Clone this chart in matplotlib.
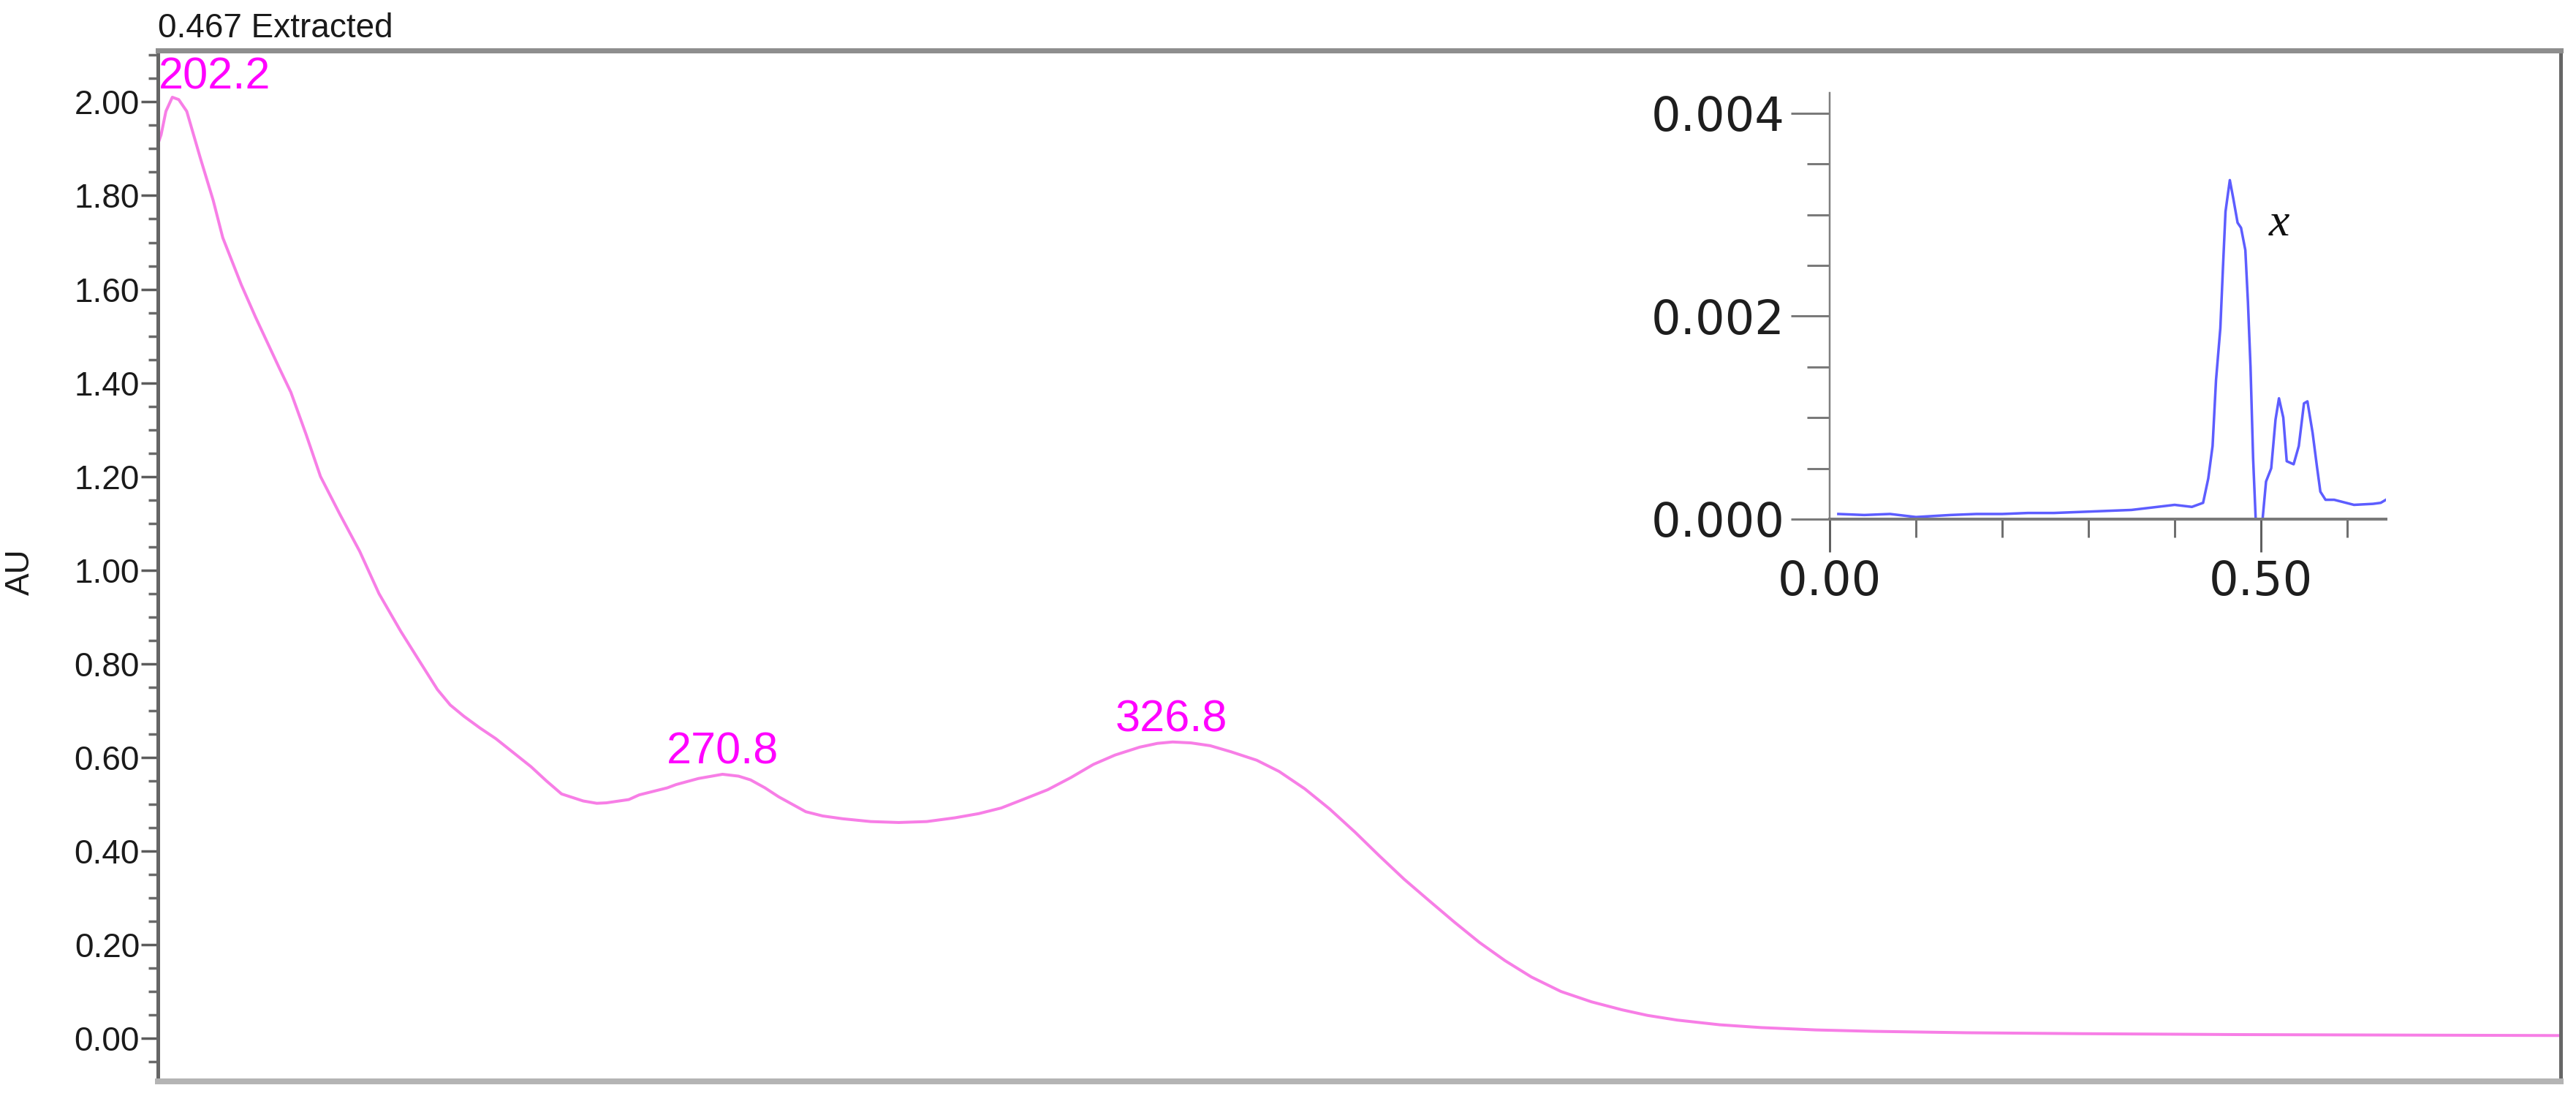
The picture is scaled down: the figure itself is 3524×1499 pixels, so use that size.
#!/usr/bin/env python
import matplotlib
matplotlib.use("Agg")
import matplotlib.pyplot as plt
from matplotlib.ticker import MultipleLocator, FixedLocator, FormatStrFormatter

# UV spectrum of the extracted peak (nm, AU)
wavelength = [200.0, 200.4, 201.0, 201.8, 202.6, 203.6, 205.3, 206.9, 208.1, 210.4,
              212.2, 213.7, 215.2, 216.6, 218.5, 220.3, 222.7, 225.2, 227.6, 230.3,
              232.5, 234.9, 236.5, 238.2, 240.2, 242.2, 244.4, 246.6, 248.5, 250.4,
              253.1, 254.8, 256.0, 258.8, 260.1, 263.6, 264.7, 267.5, 270.5, 272.5,
              274.0, 275.8, 277.5, 280.9, 283.0, 285.5, 289.0, 292.5, 296.0, 299.5,
              302.5, 305.3, 308.0, 311.1, 314.0, 316.8, 319.5, 322.6, 324.8, 326.7,
              329.0, 331.4, 334.0, 337.2, 340.0, 343.2, 346.3, 349.5, 352.5, 355.6,
              358.8, 361.9, 365.0, 368.2, 371.5, 375.2, 379.0, 382.8, 386.0, 389.7,
              395.0, 400.2, 407.0, 414.1, 425.8, 440.0, 460.0, 480.0, 500.0]
absorbance = [1.91, 1.93, 1.98, 2.01, 2.005, 1.98, 1.88, 1.79, 1.71, 1.61,
              1.54, 1.485, 1.43, 1.38, 1.29, 1.20, 1.12, 1.04, 0.95, 0.87,
              0.81, 0.745, 0.712, 0.688, 0.663, 0.64, 0.61, 0.58, 0.55, 0.522,
              0.507, 0.502, 0.503, 0.51, 0.52, 0.535, 0.542, 0.555, 0.564, 0.56,
              0.552, 0.535, 0.516, 0.484, 0.475, 0.469, 0.463, 0.461, 0.463, 0.471,
              0.48, 0.492, 0.51, 0.531, 0.557, 0.585, 0.605, 0.622, 0.630, 0.633,
              0.631, 0.625, 0.612, 0.594, 0.57, 0.533, 0.49, 0.44, 0.39, 0.34,
              0.293, 0.248, 0.205, 0.166, 0.131, 0.10, 0.078, 0.061, 0.049, 0.039,
              0.029, 0.023, 0.018, 0.015, 0.012, 0.010, 0.008, 0.007, 0.006]
peak_nm = [202.2, 270.8, 326.8]
peak_label_y = [2.028, 0.586, 0.656]

# extracted chromatogram (min, AU)
time_min = [0.01, 0.04, 0.07, 0.10, 0.12, 0.14, 0.17, 0.20, 0.23, 0.26,
            0.29, 0.32, 0.35, 0.38, 0.40, 0.42, 0.433, 0.439, 0.444, 0.448,
            0.453, 0.456, 0.459, 0.464, 0.468, 0.473, 0.477, 0.482, 0.485, 0.488,
            0.491, 0.494, 0.502, 0.506, 0.512, 0.517, 0.521, 0.526, 0.530, 0.538,
            0.544, 0.550, 0.554, 0.560, 0.565, 0.569, 0.575, 0.585, 0.608, 0.630,
            0.639, 0.645]
signal = [0.00005, 0.00004, 0.00005, 0.00002, 0.00003, 0.00004, 0.00005, 0.00005, 0.00006, 0.00006,
          0.00007, 0.00008, 0.00009, 0.00012, 0.00014, 0.00012, 0.00016, 0.0004, 0.00072, 0.00137,
          0.00188, 0.00247, 0.00303, 0.00334, 0.00316, 0.00292, 0.00287, 0.00265, 0.00214, 0.0015,
          0.0006, 0.0, 0.0, 0.00037, 0.0005, 0.00098, 0.00119, 0.001, 0.00057, 0.00054,
          0.00072, 0.00114, 0.00116, 0.00085, 0.00052, 0.00027, 0.00019, 0.00019, 0.00014, 0.00015,
          0.00016, 0.00019]

PX = 1 / 1.389  # pixels -> points at dpi 100

fig = plt.figure(figsize=(35.24, 14.99), dpi=100)
ax = fig.add_axes([0.0613, 0.0133, 0.9327, 0.9407])

ax.plot(wavelength, absorbance, color="#f77ee6", lw=4 * PX, solid_joinstyle="round")
for nm, yl in zip(peak_nm, peak_label_y):
    ha = "left" if nm < 210 else "center"
    xt = 200.1 if nm < 210 else nm - 0.3
    ax.text(xt, yl, "%.1f" % nm, color="#ff00ff", fontsize=44, ha=ha, va="baseline",
            family=["Liberation Sans Narrow", "Liberation Sans"])

ax.set_xlim(200, 500)
ax.set_ylim(-0.092, 2.11)
ax.set_xticks([])
ax.yaxis.set_major_locator(FixedLocator([0.0, 0.2, 0.4, 0.6, 0.8, 1.0, 1.2, 1.4, 1.6, 1.8, 2.0]))
ax.yaxis.set_minor_locator(MultipleLocator(0.05))
ax.yaxis.set_major_formatter(FormatStrFormatter("%.2f"))
ax.tick_params(axis="y", which="major", length=23 * PX, width=3.5 * PX, color="#5c5c5c",
               labelsize=33, labelcolor="#1a1a1a", pad=2 * PX)
ax.tick_params(axis="y", which="minor", length=13 * PX, width=3.5 * PX, color="#6a6a6a")
for lab in ax.get_yticklabels():
    lab.set_family("Liberation Sans")

ax.spines["left"].set_color("#666666")
ax.spines["left"].set_linewidth(5 * PX)
ax.spines["top"].set_color("#8e8e8e")
ax.spines["top"].set_linewidth(7 * PX)
ax.spines["right"].set_color("#666666")
ax.spines["right"].set_linewidth(5 * PX)
ax.spines["bottom"].set_color("#b4b4b4")
ax.spines["bottom"].set_linewidth(8 * PX)

fig.text(0.0080, 0.478, "AU", rotation=90, fontsize=33, ha="center", va="center",
         color="#1a1a1a", family="Liberation Sans")
fig.text(0.0613, 0.9740, "0.467 Extracted", fontsize=33, ha="left", va="center",
         color="#1a1a1a", family="Liberation Sans")

# inset chromatogram
ins = fig.add_axes([0.7103, 0.5264, 0.2159, 0.3889], facecolor="none")
ins.plot(time_min, signal, color="#4040ff", lw=3.5 * PX, alpha=0.85)
ins.set_xlim(0, 0.645)
ins.set_ylim(0, 0.0042)
ins.spines["top"].set_visible(False)
ins.spines["right"].set_visible(False)
ins.spines["left"].set_color("#808080")
ins.spines["left"].set_linewidth(2.5 * PX)
ins.spines["bottom"].set_color("#7a7a7a")
ins.spines["bottom"].set_linewidth(4 * PX)
ins.set_xticks([0.0, 0.5])
ins.set_xticklabels(["0.00", "0.50"])
ins.xaxis.set_minor_locator(FixedLocator([0.1, 0.2, 0.3, 0.4, 0.6]))
ins.set_yticks([0.0, 0.002, 0.004])
ins.set_yticklabels(["0.000", "0.002", "0.004"])
ins.yaxis.set_minor_locator(MultipleLocator(0.0005))
ins.tick_params(axis="y", which="major", length=53 * PX, width=3 * PX, color="#7a7a7a",
                labelsize=46, labelcolor="#1e1e1e", pad=8 * PX)
ins.tick_params(axis="y", which="minor", length=31 * PX, width=3 * PX, color="#7a7a7a")
ins.tick_params(axis="x", which="major", length=45 * PX, width=3 * PX, color="#606060",
                labelsize=46, labelcolor="#1e1e1e", pad=10 * PX)
ins.tick_params(axis="x", which="minor", length=25 * PX, width=3 * PX, color="#707070")
for lab in ins.get_xticklabels() + ins.get_yticklabels():
    lab.set_family("DejaVu Sans")
ins.text(0.521, 0.0029, "x", fontsize=46, style="italic", family="Liberation Serif",
         color="#111111", ha="center", va="center")

fig.savefig("out.png", dpi=100)
